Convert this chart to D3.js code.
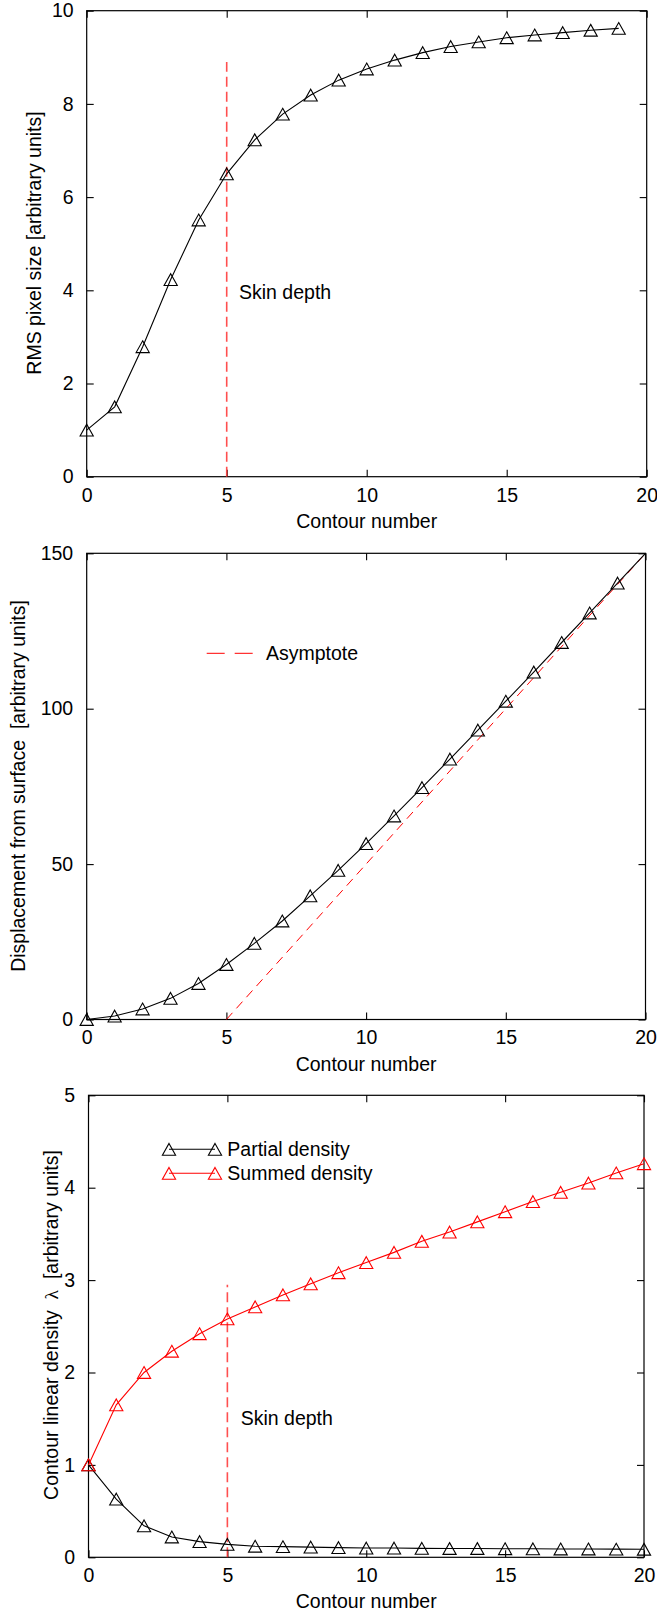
<!DOCTYPE html>
<html>
<head>
<meta charset="utf-8">
<script src="https://cdn.jsdelivr.net/npm/d3@7"></script>
<style>
  html, body { margin: 0; padding: 0; background: #fff; }
  svg { display: block; }
  text { font-family: "Liberation Sans", Arial, Helvetica, sans-serif; }
</style>
</head>
<body>
<svg id="chart" width="657" height="1616"></svg>
<script>
// ---- data ----
const contourA = [0, 1, 2, 3, 4, 5, 6, 7, 8, 9, 10, 11, 12, 13, 14, 15, 16, 17, 18, 19];
const rmsPixelSize = [1.00, 1.50, 2.79, 4.23, 5.51, 6.50, 7.23, 7.78, 8.19, 8.51,
                      8.75, 8.94, 9.10, 9.23, 9.33, 9.42, 9.48, 9.53, 9.58, 9.62];

const contourB = [0, 1, 2, 3, 4, 5, 6, 7, 8, 9, 10, 11, 12, 13, 14, 15, 16, 17, 18, 19, 20];
const displacement = [0, 1.1, 3.4, 6.8, 11.6, 17.7, 24.5, 31.7, 39.8, 48.0, 56.6,
                      65.5, 74.6, 83.8, 93.1, 102.4, 111.8, 121.3, 130.8, 140.4, 150];
const asymptoteX = [5, 20];
const asymptoteY = [0, 150];

const partialDensity = [1.00, 0.63, 0.34, 0.22, 0.17, 0.14, 0.12, 0.115, 0.11, 0.105, 0.10,
                        0.10, 0.097, 0.095, 0.095, 0.093, 0.092, 0.09, 0.09, 0.088, 0.087];
const summedDensity = [1.00, 1.65, 2.00, 2.23, 2.42, 2.58, 2.71, 2.84, 2.96, 3.08, 3.19,
                       3.30, 3.42, 3.52, 3.63, 3.74, 3.85, 3.95, 4.05, 4.16, 4.26];

const skinDepth = 5;
const skinLineTop1 = 8.9;
const skinLineTop3 = 2.95;

const xTicks = [0, 5, 10, 15, 20];
const yTicks1 = [0, 2, 4, 6, 8, 10];
const yTicks2 = [0, 50, 100, 150];
const yTicks3 = [0, 1, 2, 3, 4, 5];

// ---- drawing ----
const svg = d3.select("#chart");
const FS = 19.5;
const TICK = 7;
const fmt = d3.format("d");

function triangle(g, cx, cy, color) {
  const w = 13.2, h = 11.8;
  g.append("path")
    .attr("d", `M${cx},${cy - h / 2}L${cx + w / 2},${cy + h / 2}L${cx - w / 2},${cy + h / 2}Z`)
    .attr("fill", "none")
    .attr("stroke", color)
    .attr("stroke-width", 1.1);
}

function panel(cfg) {
  const x = d3.scaleLinear().domain([0, 20]).range([cfg.left, cfg.right]);
  const y = d3.scaleLinear().domain(cfg.yDomain).range([cfg.bottom, cfg.top]);
  const g = svg.append("g");

  // axes with inward ticks on all four sides
  const ax = (axis) => axis.tickSizeOuter(0);
  const bottom = g.append("g").attr("transform", `translate(0,${cfg.bottom})`)
    .call(ax(d3.axisBottom(x).tickValues(xTicks).tickFormat(fmt).tickSizeInner(-TICK).tickPadding(11)));
  const left = g.append("g").attr("transform", `translate(${cfg.left},0)`)
    .call(ax(d3.axisLeft(y).tickValues(cfg.yTicks).tickFormat(fmt).tickSizeInner(-TICK).tickPadding(cfg.yPad)));
  const top = g.append("g").attr("transform", `translate(0,${cfg.top})`)
    .call(ax(d3.axisTop(x).tickValues(xTicks).tickSizeInner(-TICK).tickFormat("")));
  const right = g.append("g").attr("transform", `translate(${cfg.right},0)`)
    .call(ax(d3.axisRight(y).tickValues(cfg.yTicks).tickSizeInner(-TICK).tickFormat("")));
  [bottom, left, top, right].forEach(a => {
    a.select(".domain").remove();
    a.selectAll("line").attr("stroke", "#000").attr("stroke-width", 1.1);
    a.selectAll("text").attr("font-size", FS).attr("fill", "#000")
      .attr("font-family", '"Liberation Sans", Arial, sans-serif');
  });

  // frame
  g.append("rect")
    .attr("x", cfg.left).attr("y", cfg.top)
    .attr("width", cfg.right - cfg.left).attr("height", cfg.bottom - cfg.top)
    .attr("fill", "none").attr("stroke", "#000").attr("stroke-width", 1.2);

  // axis titles
  g.append("text")
    .attr("x", (cfg.left + cfg.right) / 2).attr("y", cfg.bottom + 51)
    .attr("text-anchor", "middle").attr("font-size", FS)
    .text("Contour number");

  const yt = g.append("text")
    .attr("transform", `translate(${cfg.yTitleX},${cfg.yTitleY}) rotate(-90)`)
    .attr("text-anchor", "middle").attr("font-size", FS)
    .style("white-space", "pre");
  cfg.yTitle(yt);

  return { g, x, y };
}

function series(p, xs, ys, color, markerFilter) {
  const line = d3.line().x((d, i) => p.x(xs[i])).y(d => p.y(d));
  p.g.append("path").datum(ys)
    .attr("d", line).attr("fill", "none")
    .attr("stroke", color).attr("stroke-width", 1.1);
  ys.forEach((v, i) => {
    if (!markerFilter || markerFilter(v, i)) triangle(p.g, p.x(xs[i]), p.y(v), color);
  });
}

// Panel 1: RMS pixel size
const p1 = panel({
  left: 86.7, right: 646.7, top: 10.7, bottom: 476.7,
  yDomain: [0, 10], yTicks: yTicks1, yPad: 13,
  yTitleX: 40.5, yTitleY: 243,
  yTitle: t => t.text("RMS pixel size [arbitrary units]")
});
p1.g.append("line")
  .attr("x1", p1.x(skinDepth)).attr("x2", p1.x(skinDepth))
  .attr("y1", p1.y(0)).attr("y2", p1.y(skinLineTop1))
  .attr("stroke", "#ff3030").attr("stroke-width", 1.6)
  .attr("stroke-opacity", 0.85).attr("stroke-dasharray", "10,5");
series(p1, contourA, rmsPixelSize, "#000");
p1.g.append("text").attr("x", 239).attr("y", 298.5)
  .attr("font-size", FS).text("Skin depth");

// Panel 2: displacement from surface
const p2 = panel({
  left: 86.7, right: 645.5, top: 553.3, bottom: 1019.5,
  yDomain: [0, 150], yTicks: yTicks2, yPad: 13.5,
  yTitleX: 25, yTitleY: 786,
  yTitle: t => t.text("Displacement from surface  [arbitrary units]")
});
p2.g.append("path").datum(asymptoteY)
  .attr("d", d3.line().x((d, i) => p2.x(asymptoteX[i])).y(d => p2.y(d)))
  .attr("fill", "none").attr("stroke", "#ff0000").attr("stroke-width", 1)
  .attr("stroke-dasharray", "9,6");
// markers lying on the top border are left out
series(p2, contourB, displacement, "#000", v => v < 150);
p2.g.append("line")
  .attr("x1", 206.7).attr("x2", 253).attr("y1", 653.3).attr("y2", 653.3)
  .attr("stroke", "#ff0000").attr("stroke-width", 1).attr("stroke-dasharray", "18,10");
p2.g.append("text").attr("x", 266).attr("y", 660.3)
  .attr("font-size", FS).text("Asymptote");

// Panel 3: contour linear density
const p3 = panel({
  left: 88.5, right: 644, top: 1095.3, bottom: 1557.3,
  yDomain: [0, 5], yTicks: yTicks3, yPad: 13.5,
  yTitleX: 58, yTitleY: 1325,
  yTitle: t => {
    t.append("tspan").text("Contour linear density  ");
    t.append("tspan").attr("font-family", '"Liberation Serif", "DejaVu Serif", serif').text("λ");
    t.append("tspan").text("  [arbitrary units]");
  }
});
p3.g.append("line")
  .attr("x1", p3.x(skinDepth)).attr("x2", p3.x(skinDepth))
  .attr("y1", p3.y(0)).attr("y2", p3.y(skinLineTop3))
  .attr("stroke", "#ff3030").attr("stroke-width", 1.6)
  .attr("stroke-opacity", 0.85).attr("stroke-dasharray", "10,5");
series(p3, contourB, partialDensity, "#000");
series(p3, contourB, summedDensity, "#ff0000");
p3.g.append("text").attr("x", 240.7).attr("y", 1424.5)
  .attr("font-size", FS).text("Skin depth");

// legend
const legendRows = [
  { label: "Partial density", color: "#000", y: 1149.3 },
  { label: "Summed density", color: "#ff0000", y: 1173.3 }
];
legendRows.forEach(r => {
  p3.g.append("line").attr("x1", 169).attr("x2", 215).attr("y1", r.y).attr("y2", r.y)
    .attr("stroke", r.color).attr("stroke-width", 1.1);
  triangle(p3.g, 169, r.y, r.color);
  triangle(p3.g, 215, r.y, r.color);
  p3.g.append("text").attr("x", 227.3).attr("y", r.y + 7)
    .attr("font-size", FS).text(r.label);
});
</script>
</body>
</html>
